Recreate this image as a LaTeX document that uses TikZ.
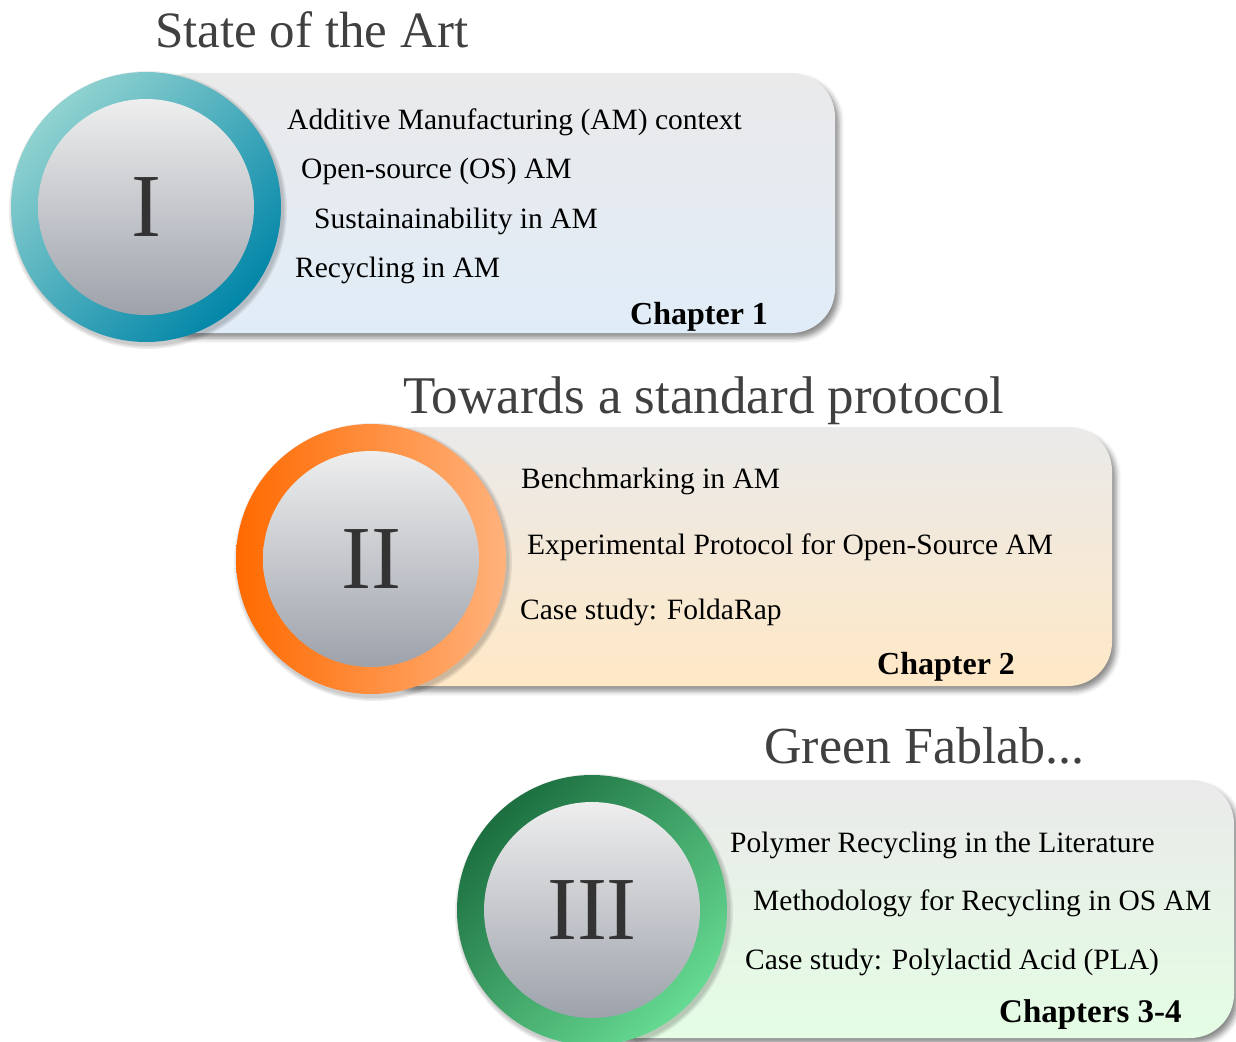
\documentclass[tikz,border=0pt]{standalone}
\usepackage{fontspec}
\setmainfont{Liberation Serif}
\usetikzlibrary{shadows.blur}
\definecolor{diskTop}{HTML}{EEEEEE}
\definecolor{diskBot}{HTML}{9DA2AB}
\definecolor{panTop}{HTML}{EAEAEA}
\definecolor{panBlue}{HTML}{E0ECF8}
\definecolor{panOrange}{HTML}{FFE8C6}
\definecolor{panGreen}{HTML}{E4FDE4}
\definecolor{tealA}{HTML}{90D2D0}
\definecolor{tealB}{HTML}{0286A8}
\definecolor{orA}{HTML}{FF6A00}
\definecolor{orB}{HTML}{FFB27C}
\definecolor{grA}{HTML}{1C6F40}
\definecolor{grB}{HTML}{66DA92}
\definecolor{titlegray}{HTML}{404040}
\definecolor{numgray}{HTML}{333333}
\begin{document}
\begin{tikzpicture}[x=1pt,y=1pt,
  panel/.style={rectangle, rounded corners=44pt, inner sep=0pt, outer sep=0pt, anchor=north west,
    blur shadow={shadow xshift=4pt, shadow yshift=-5pt, shadow blur radius=5pt, shadow opacity=45}},
  ring/.style={circle, inner sep=0pt, minimum size=270pt},
  ringshade/.style={fill=black, fill opacity=0.07},
  disk/.style={circle, inner sep=0pt, minimum size=216pt, top color=diskTop, bottom color=diskBot,
    text=numgray, font=\fontsize{90}{90}\selectfont},
  title/.style={anchor=base west, inner sep=0pt, text=titlegray, font=\fontsize{51}{55}\selectfont},
  body/.style={anchor=base west, inner sep=0pt, font=\fontsize{29.5}{35}\selectfont},
  chap/.style={anchor=base west, inner sep=0pt, font=\fontsize{32}{35}\selectfont\bfseries}
]
\useasboundingbox (0,0) rectangle (1236,-1041);

% ---------- I ----------
\node[title] (t1) at (155,-48) {State of the Art};
\node[panel, minimum width=689pt, minimum height=260pt, top color=panTop, bottom color=panBlue] (p1) at (146,-73) {};
\coordinate (o1) at (146,-207);
\foreach \r in {136,137.5,139} \fill[ringshade] ([shift={(2,-3)}]o1) circle (\r);
\node[ring, top color=tealA, bottom color=tealB, shading angle=45] (r1) at (o1) {};
\node[disk] (d1) at (r1) {I};
\node[body] (a1) at (287,-129) {Additive Manufacturing (AM) context};
\node[body] (a2) at (301,-178) {Open-source (OS) AM};
\node[body] (a3) at (314,-228) {Sustainainability in AM};
\node[body] (a4) at (295,-277) {Recycling in AM};
\node[chap] (c1) at (630,-324) {Chapter 1};

% ---------- II ----------
\node[title, font=\fontsize{53}{57}\selectfont] (t2) at (403,-413) {Towards a standard protocol};
\node[panel, minimum width=741pt, minimum height=259pt, top color=panTop, bottom color=panOrange] (p2) at (371,-427) {};
\coordinate (o2) at (371,-559);
\foreach \r in {136,137.5,139} \fill[ringshade] ([shift={(2,-3)}]o2) circle (\r);
\node[ring, left color=orA, right color=orB] (r2) at (o2) {};
\node[disk] (d2) at (r2) {II};
\node[body] (b1) at (521,-488) {Benchmarking in AM};
\node[body] (b2) at (527,-554) {Experimental Protocol for Open-Source AM};
\node[body] (b3) at (520,-619) {Case study: FoldaRap};
\node[chap] (c2) at (877,-674) {Chapter 2};

% ---------- III ----------
\node[title, font=\fontsize{52}{56}\selectfont] (t3) at (764,-763) {Green Fablab...};
\node[panel, minimum width=642pt, minimum height=258pt, top color=panTop, bottom color=panGreen] (p3) at (592,-780) {};
\coordinate (o3) at (592,-910);
\foreach \r in {136,137.5,139} \fill[ringshade] ([shift={(2,-3)}]o3) circle (\r);
\node[ring, top color=grA, bottom color=grB, shading angle=45] (r3) at (o3) {};
\node[disk] (d3) at (r3) {III};
\node[body] (e1) at (730,-852) {Polymer Recycling in the Literature};
\node[body] (e2) at (753,-910) {Methodology for Recycling in OS AM};
\node[body] (e3) at (745,-969) {Case study: Polylactid Acid (PLA)};
\node[chap, font=\fontsize{33}{36}\selectfont\bfseries] (c3) at (999,-1022) {Chapters 3-4};
\end{tikzpicture}
\end{document}
